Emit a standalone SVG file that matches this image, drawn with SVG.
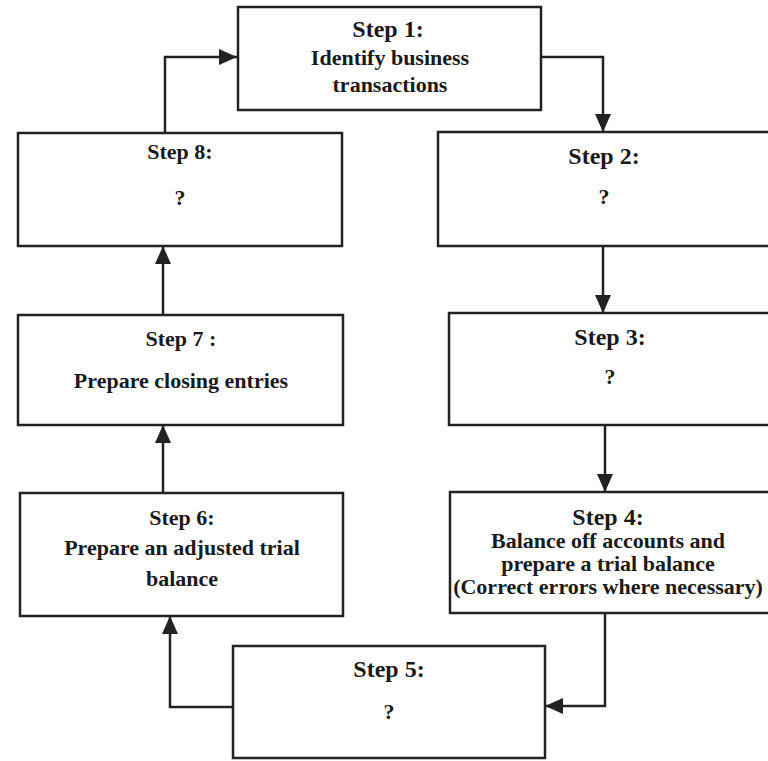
<svg xmlns="http://www.w3.org/2000/svg" width="768" height="761" viewBox="0 0 768 761">
<defs>
<style>
.box{fill:#ffffff;stroke:#222;stroke-width:2.5}
.t{font-family:"Liberation Serif","Times New Roman",serif;font-weight:bold;font-size:22px;fill:#1a1a1a;text-anchor:middle}
.h{font-size:24px}
.c{fill:none;stroke:#222;stroke-width:2.5}
</style>
<marker id="ah" markerUnits="userSpaceOnUse" markerWidth="20" markerHeight="16" refX="18" refY="8" orient="auto">
<path d="M0,0 L18,8 L0,16 z" fill="#222"/>
</marker>
</defs>
<rect width="768" height="761" fill="#ffffff"/>
<g id="connectors">
<path class="c" d="M165,132 V57 H237" marker-end="url(#ah)"/>
<path class="c" d="M541,57 H603 V132" marker-end="url(#ah)"/>
<path class="c" d="M603,246 V313" marker-end="url(#ah)"/>
<path class="c" d="M605,425 V492" marker-end="url(#ah)"/>
<path class="c" d="M605,613 V706 H545" marker-end="url(#ah)"/>
<path class="c" d="M233,707 H170 V616" marker-end="url(#ah)"/>
<path class="c" d="M163,493 V425" marker-end="url(#ah)"/>
<path class="c" d="M163,315 V246" marker-end="url(#ah)"/>
</g>
<g id="step1">
<rect class="box" x="238" y="7" width="303" height="103"/>
<text class="t h" x="388" y="37">Step 1:</text>
<text class="t" x="390" y="65">Identify business</text>
<text class="t" x="390" y="92">transactions</text>
</g>
<g id="step2">
<rect class="box" x="438" y="132" width="340" height="114"/>
<text class="t h" x="604" y="164">Step 2:</text>
<text class="t" x="604" y="204">?</text>
</g>
<g id="step3">
<rect class="box" x="449" y="313" width="330" height="112"/>
<text class="t h" x="610" y="345">Step 3:</text>
<text class="t" x="610" y="384">?</text>
</g>
<g id="step4">
<rect class="box" x="450" y="492" width="330" height="121"/>
<text class="t h" x="608" y="525">Step 4:</text>
<text class="t" x="608" y="548">Balance off accounts and</text>
<text class="t" x="608" y="571">prepare a trial balance</text>
<text class="t" x="608" y="594">(Correct errors where necessary)</text>
</g>
<g id="step5">
<rect class="box" x="233" y="646" width="312" height="112"/>
<text class="t h" x="389" y="677">Step 5:</text>
<text class="t" x="389" y="719">?</text>
</g>
<g id="step6">
<rect class="box" x="20" y="493" width="323" height="123"/>
<text class="t" x="182" y="525">Step 6:</text>
<text class="t" x="182" y="555">Prepare an adjusted trial</text>
<text class="t" x="182" y="586">balance</text>
</g>
<g id="step7">
<rect class="box" x="18" y="315" width="325" height="110"/>
<text class="t" x="181" y="346">Step 7 :</text>
<text class="t" x="181" y="388">Prepare closing entries</text>
</g>
<g id="step8">
<rect class="box" x="18" y="133" width="324" height="113"/>
<text class="t" x="180" y="159">Step 8:</text>
<text class="t" x="180" y="205">?</text>
</g>
</svg>
